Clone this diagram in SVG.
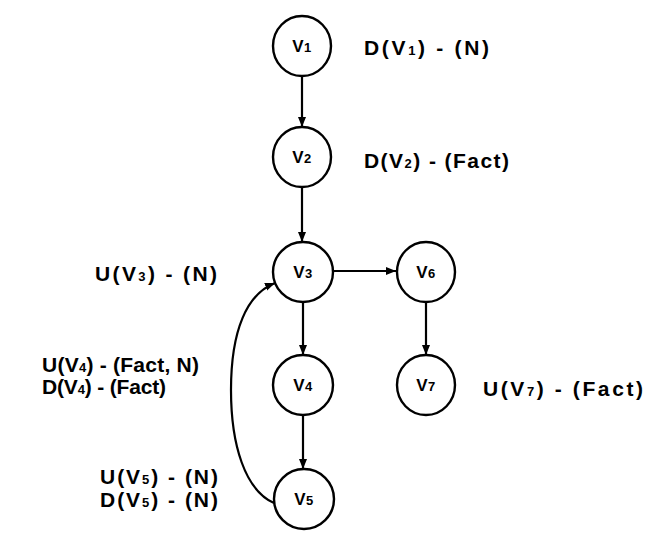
<svg xmlns="http://www.w3.org/2000/svg" width="653" height="549" viewBox="0 0 653 549">
<defs>
<style>
.n{fill:#fff;stroke:#000;stroke-width:2.4}
.e{fill:none;stroke:#000;stroke-width:2.2}
text{font-family:"Liberation Sans","DejaVu Sans",sans-serif;font-size:21px;font-weight:bold;fill:#000}
.l{font-size:17px;text-anchor:middle;letter-spacing:0.5px}
.s{font-size:13px}
</style>
<marker id="a" viewBox="0 0 10 10" refX="10" refY="5" markerWidth="10" markerHeight="10" orient="auto" markerUnits="userSpaceOnUse">
<path d="M0,1 L10,5 L0,9 z" fill="#000"/>
</marker>
</defs>
<g id="connectors">
<path class="e" d="M302,76 V127" marker-end="url(#a)"/>
<path class="e" d="M302,187 V242" marker-end="url(#a)"/>
<path class="e" d="M333,271 H396" marker-end="url(#a)"/>
<path class="e" d="M303,302 V355" marker-end="url(#a)"/>
<path class="e" d="M426,302 V355" marker-end="url(#a)"/>
<path class="e" d="M303,415 V469" marker-end="url(#a)"/>
<path class="e" d="M274,503 C245,490 231,445 231,390 C231,330 247,294 275,283" marker-end="url(#a)"/>
</g>
<g id="v1"><ellipse class="n" cx="302" cy="46" rx="29" ry="30"/><text class="l" x="302" y="52">V<tspan class="s">1</tspan></text></g>
<g id="v2"><ellipse class="n" cx="302" cy="157" rx="29" ry="30"/><text class="l" x="302" y="163">V<tspan class="s">2</tspan></text></g>
<g id="v3"><ellipse class="n" cx="303" cy="272" rx="30" ry="30"/><text class="l" x="303" y="278">V<tspan class="s">3</tspan></text></g>
<g id="v6"><ellipse class="n" cx="426" cy="272" rx="29" ry="30"/><text class="l" x="426" y="278">V<tspan class="s">6</tspan></text></g>
<g id="v4"><ellipse class="n" cx="303" cy="385" rx="30" ry="30"/><text class="l" x="303" y="391">V<tspan class="s">4</tspan></text></g>
<g id="v7"><ellipse class="n" cx="426" cy="385" rx="29" ry="30"/><text class="l" x="426" y="391">V<tspan class="s">7</tspan></text></g>
<g id="v5"><ellipse class="n" cx="304" cy="499" rx="30" ry="30"/><text class="l" x="304" y="505">V<tspan class="s">5</tspan></text></g>
<g id="labels">
<text x="364" y="55" textLength="125" lengthAdjust="spacing">D(V<tspan class="s">1</tspan>) - (N)</text>
<text x="364" y="168" textLength="145" lengthAdjust="spacing">D(V<tspan class="s">2</tspan>) - (Fact)</text>
<text x="95" y="281" textLength="122" lengthAdjust="spacing">U(V<tspan class="s">3</tspan>) - (N)</text>
<text x="42" y="372" textLength="157" lengthAdjust="spacing">U(V<tspan class="s">4</tspan>) - (Fact, N)</text>
<text x="42" y="394" textLength="124" lengthAdjust="spacing">D(V<tspan class="s">4</tspan>) - (Fact)</text>
<text x="483" y="396" textLength="160" lengthAdjust="spacing">U(V<tspan class="s">7</tspan>) - (Fact)</text>
<text x="100" y="484" textLength="118" lengthAdjust="spacing">U(V<tspan class="s">5</tspan>) - (N)</text>
<text x="100" y="507" textLength="118" lengthAdjust="spacing">D(V<tspan class="s">5</tspan>) - (N)</text>
</g>
</svg>
